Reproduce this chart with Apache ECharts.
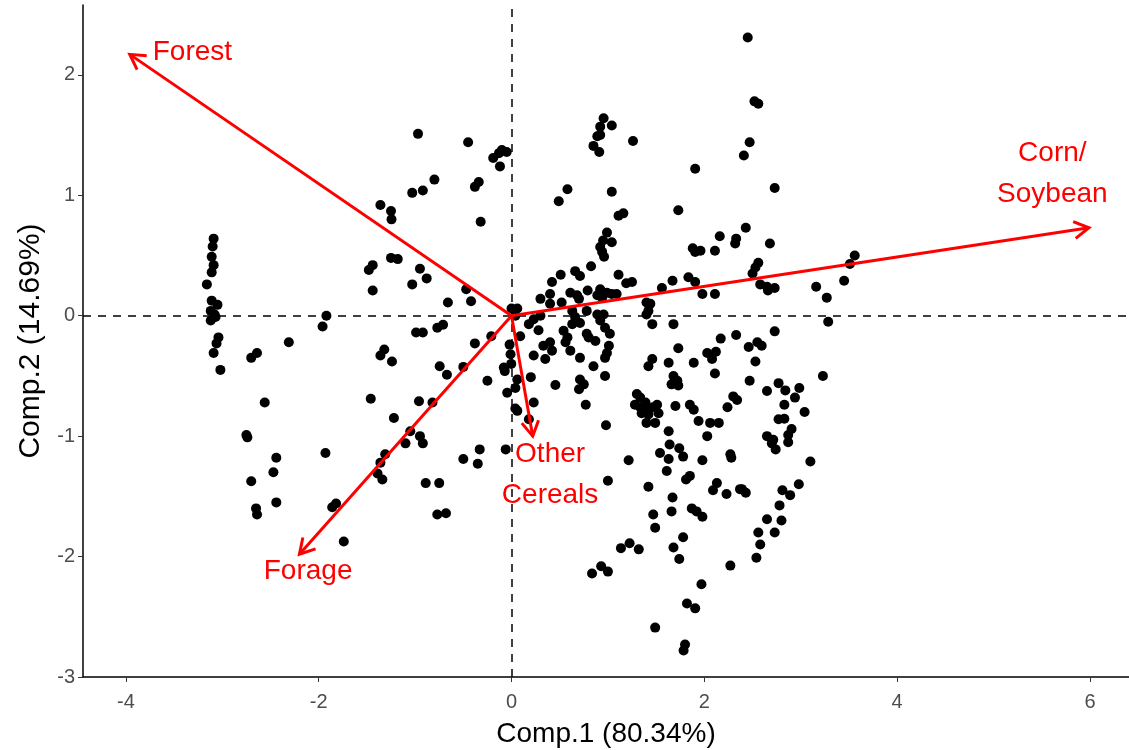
<!DOCTYPE html>
<html>
<head>
<meta charset="utf-8">
<script src="https://cdn.jsdelivr.net/npm/echarts@6/dist/echarts.min.js"></script>
<style>
  html, body { margin: 0; padding: 0; background: #fff; }
  #biplot { width: 1129px; height: 750px; }
</style>
</head>
<body>
<div id="biplot"></div>
<script>
// PCA scores (Comp.1, Comp.2)
var scores = [
  [-3.09,0.64],[-3.10,0.575],[-3.11,0.49],[-3.09,0.42],[-3.11,0.36],[-3.16,0.26],[-3.11,0.125],[-3.05,0.09],
  [-3.12,0.04],[-3.08,0.01],[-3.12,-0.04],[-3.07,-0.01],[-3.04,-0.18],[-3.06,-0.23],[-3.09,-0.31],[-3.02,-0.45],
  [-2.64,-0.31],[-2.70,-0.35],[-2.31,-0.22],[-1.92,0.0],[-1.96,-0.09],[-2.56,-0.72],[-1.46,-0.69],[-1.22,-0.85],
  [-1.44,0.42],[-1.48,0.38],[-1.44,0.21],[-1.25,0.48],[-1.18,0.47],[-1.32,-0.28],[-1.36,-0.33],[-1.24,-0.38],
  [-2.75,-0.99],[-2.74,-1.01],[-2.44,-1.18],[-2.47,-1.30],[-2.70,-1.375],[-2.44,-1.55],[-2.65,-1.60],[-2.64,-1.65],
  [-1.93,-1.14],[-1.31,-1.15],[-1.36,-1.22],[-1.39,-1.31],[-1.34,-1.36],[-1.82,-1.56],[-1.86,-1.59],[-1.74,-1.875],
  [-0.97,1.51],[-0.45,1.44],[-0.10,1.375],[-0.05,1.36],[-0.13,1.35],[-0.19,1.31],[-0.12,1.24],[-0.80,1.13],
  [-0.34,1.11],[-0.38,1.07],[-1.03,1.02],[-0.92,1.04],[-1.36,0.92],[-1.25,0.87],[-1.245,0.80],[-0.32,0.78],
  [-0.95,0.39],[-0.88,0.31],[-1.03,0.26],[-0.47,0.22],[-0.66,0.11],[-0.42,0.12],
  [-0.99,-0.14],[-0.92,-0.14],[-0.77,-0.10],[-0.71,-0.075],[-0.38,-0.23],[-0.21,-0.17],[-0.02,-0.24],[-0.745,-0.42],
  [-0.67,-0.49],[-0.50,-0.425],[-0.003,-0.40],[-0.07,-0.46],[0.06,-0.53],[-0.045,-0.64],[0.04,-0.77],[-0.25,-0.54],
  [-0.96,-0.71],[-0.82,-0.72],[-1.05,-0.96],[-0.95,-1.0],[-0.92,-1.06],[-1.10,-1.06],[-0.33,-1.11],[-0.35,-1.23],
  [-0.50,-1.19],[-0.06,-1.11],[-0.89,-1.39],[-0.75,-1.39],[-0.77,-1.65],[-0.68,-1.64],
  [0.955,1.64],[1.04,1.58],[0.92,1.57],[0.92,1.50],[0.89,1.49],[0.85,1.41],[0.91,1.36],[1.26,1.45],
  [1.905,1.22],[0.58,1.05],[0.49,0.95],[1.04,1.03],[1.73,0.875],[1.11,0.83],[1.16,0.85],[0.99,0.69],
  [0.95,0.625],[1.04,0.61],[0.92,0.57],[0.94,0.53],[0.96,0.49],[1.88,0.56],[1.905,0.53],[0.825,0.41],
  [0.66,0.37],[0.71,0.33],[0.51,0.34],[0.42,0.28],[1.11,0.34],[1.19,0.27],[1.25,0.28],[1.67,0.29],
  [1.835,0.32],[1.905,0.28],[1.56,0.23],[0.79,0.21],[0.30,0.14],[0.40,0.18],[0.52,0.11],[0.61,0.19],
  [0.68,0.17],[0.92,0.22],[0.99,0.19],[1.04,0.18],[0.94,0.15],[0.89,0.17],[1.40,0.11],[1.44,0.10],
  [0.06,0.06],[0.0,0.06],
  [0.40,0.10],[0.70,0.14],[1.09,0.18],[1.42,0.04],[1.40,0.01],[1.46,-0.07],[1.68,-0.07],[0.04,0.0],
  [0.18,-0.07],[0.28,-0.12],[0.09,-0.17],[0.30,0.0],[0.23,-0.03],[0.63,0.04],[0.66,-0.01],[0.71,-0.06],
  [0.63,-0.07],[0.78,0.04],[0.89,0.01],[0.92,-0.04],[0.955,0.01],[0.54,-0.125],[0.58,-0.18],[0.56,-0.22],
  [0.61,-0.29],[0.78,-0.15],[0.87,-0.21],[0.80,-0.18],[0.97,-0.10],[1.02,-0.15],[1.01,-0.25],[0.99,-0.31],
  [0.97,-0.35],[0.33,-0.25],[0.40,-0.22],[0.42,-0.29],[0.35,-0.36],[0.23,-0.33],[0.71,-0.35],[0.85,-0.42],
  [0.97,-0.50],[-0.01,-0.32],[-0.08,-0.43],[0.04,-0.60],[0.20,-0.51],[0.06,-0.79],[0.23,-0.72],[0.455,-0.575],
  [0.71,-0.53],[0.75,-0.57],[0.70,-0.61],[0.77,-0.74],[1.73,-0.27],[1.46,-0.36],[1.42,-0.42],[1.63,-0.39],
  [1.89,-0.39],[1.68,-0.50],[1.72,-0.54],[1.66,-0.57],[1.73,-0.58],[1.30,-0.65],[1.335,-0.68],[1.28,-0.74],
  [1.39,-0.72],[1.335,-0.76],[1.40,-0.78],[1.47,-0.76],[1.51,-0.74],[1.525,-0.81],[1.42,-0.82],[1.35,-0.81],
  [1.70,-0.75],[1.85,-0.74],[1.89,-0.78],[0.18,-0.86],
  [0.98,-0.91],[1.40,-0.89],[1.49,-0.89],[1.94,-0.875],[2.06,-0.89],[2.15,-0.89],[1.63,-0.96],[2.03,-1.0],
  [1.64,-1.07],[1.74,-1.10],[1.78,-1.17],[1.54,-1.14],[1.63,-1.19],[1.61,-1.29],[1.215,-1.20],[1.98,-1.20],
  [2.27,-1.15],[2.28,-1.18],[1.85,-1.33],[1.81,-1.36],[1.00,-1.37],[1.42,-1.42],[2.13,-1.39],[2.09,-1.45],
  [2.23,-1.48],[1.67,-1.51],[2.37,-1.44],[1.47,-1.65],[1.66,-1.625],[1.87,-1.60],[1.92,-1.625],[1.98,-1.67],
  [1.49,-1.76],[1.78,-1.84],[1.225,-1.89],[1.135,-1.93],[1.32,-1.94],[1.68,-1.925],[1.74,-2.02],[0.835,-2.14],
  [0.93,-2.08],[1.00,-2.125],[2.27,-2.075],[1.97,-2.23],[1.82,-2.39],[1.905,-2.43],[1.49,-2.59],[1.80,-2.73],
  [1.785,-2.78],
  [2.45,2.31],[2.52,1.78],[2.56,1.76],[2.47,1.44],[2.41,1.33],[2.73,1.06],[2.43,0.73],[2.16,0.66],
  [2.33,0.64],[2.32,0.60],[2.68,0.60],[1.96,0.54],[2.11,0.54],[2.56,0.44],[2.53,0.40],[2.50,0.35],
  [3.56,0.50],[3.51,0.43],[1.98,0.18],[2.11,0.18],[2.58,0.26],[2.65,0.24],[2.73,0.23],[2.66,0.21],
  [3.16,0.24],[3.45,0.29],[3.27,0.15],
  [3.285,-0.05],[2.73,-0.13],[2.33,-0.16],[2.17,-0.19],[2.46,-0.26],[2.55,-0.22],[2.595,-0.25],[2.03,-0.31],
  [2.12,-0.30],[2.08,-0.36],[2.53,-0.38],[2.11,-0.48],[2.47,-0.54],[3.23,-0.50],[2.65,-0.625],[2.77,-0.56],
  [2.84,-0.62],[2.985,-0.60],[2.94,-0.68],[2.30,-0.67],[2.34,-0.70],[2.24,-0.76],[2.83,-0.74],[3.04,-0.80],
  [2.77,-0.86],[2.83,-0.855],[2.905,-0.94],[2.87,-0.99],[2.65,-1.0],[2.715,-1.03],
  [2.39,-1.44],[2.43,-1.47],[2.70,-1.06],[2.74,-1.11],[2.87,-1.05],[3.10,-1.21],[2.81,-1.45],[2.89,-1.49],
  [2.98,-1.40],[2.78,-1.575],[2.65,-1.69],[2.80,-1.70],[2.56,-1.80],[2.73,-1.80],[2.58,-1.90],[2.54,-2.01]
];

// loadings arrows
var loadNames = ["Forest", "Corn/\nSoybean", "Forage", "Other\nCereals"];
var loadX = [-3.96, 5.99, -2.2, 0.22];
var loadY = [2.17, 0.73, -1.98, -1.0];
// where the arrow labels sit (data units)
var labelX = [-3.31, 5.61, -2.11, 0.40];
var labelY = [2.19, 1.18, -2.125, -1.32];

var xTicks = [-4, -2, 0, 2, 4, 6];
var yTicks = [-3, -2, -1, 0, 1, 2];

var chartDom = document.getElementById("biplot");
var myChart = echarts.init(chartDom);
var font = '"Liberation Sans", Arial, sans-serif';

var arrows = [];
for (var i = 0; i < loadNames.length; i++) {
  arrows.push([loadX[i], loadY[i], labelX[i], labelY[i]]);
}

var option = {
  animation: false,
  grid: { left: 83, right: 0, top: 5, bottom: 73, outerBoundsMode: "none", containLabel: false },
  xAxis: {
    type: "value",
    min: -4.445,
    max: 6.405,
    name: "Comp.1 (80.34%)",
    nameLocation: "middle",
    nameGap: 43,
    nameTextStyle: { color: "#000", fontSize: 28, fontFamily: font },
    axisLine: { show: true, onZero: false, lineStyle: { color: "#000", width: 1.5 } },
    axisTick: { show: true, length: 5, customValues: xTicks, lineStyle: { color: "#333" } },
    axisLabel: { customValues: xTicks, color: "#4d4d4d", fontSize: 20, fontFamily: font, margin: 15 },
    splitLine: { show: false }
  },
  yAxis: {
    type: "value",
    min: -3.0,
    max: 2.58,
    name: "Comp.2 (14.69%)",
    nameLocation: "middle",
    nameGap: 37,
    nameTextStyle: { color: "#000", fontSize: 30, fontFamily: font },
    axisLine: { show: true, onZero: false, lineStyle: { color: "#000", width: 1.5 } },
    axisTick: { show: true, length: 5, customValues: yTicks, lineStyle: { color: "#333" } },
    axisLabel: { customValues: yTicks, color: "#4d4d4d", fontSize: 20, fontFamily: font, margin: 8 },
    splitLine: { show: false }
  },
  series: [
    {
      type: "scatter",
      data: scores,
      symbolSize: 10,
      itemStyle: { color: "#000", opacity: 1 },
      z: 3,
      markLine: {
        silent: true,
        symbol: "none",
        label: { show: false },
        lineStyle: { color: "#000", type: [8, 7], width: 1.5 },
        data: [{ xAxis: 0 }, { yAxis: 0 }],
        z: 1
      }
    },
    {
      type: "custom",
      data: arrows,
      z: 5,
      renderItem: function (params, api) {
        var o = api.coord([0, 0]);
        var t = api.coord([api.value(0), api.value(1)]);
        var lp = api.coord([api.value(2), api.value(3)]);
        var ang = Math.atan2(t[1] - o[1], t[0] - o[0]);
        var L = 17, a = Math.PI / 6;
        var p1 = [t[0] - L * Math.cos(ang - a), t[1] - L * Math.sin(ang - a)];
        var p2 = [t[0] - L * Math.cos(ang + a), t[1] - L * Math.sin(ang + a)];
        return {
          type: "group",
          children: [
            { type: "line", shape: { x1: o[0], y1: o[1], x2: t[0], y2: t[1] }, style: { stroke: "#ff0000", lineWidth: 3 } },
            { type: "polyline", shape: { points: [p1, t, p2] }, style: { stroke: "#ff0000", lineWidth: 3, fill: null } },
            {
              type: "text",
              x: lp[0],
              y: lp[1],
              style: {
                text: loadNames[params.dataIndex],
                fill: "#ff0000",
                fontSize: 28,
                fontFamily: font,
                align: "center",
                verticalAlign: "middle",
                lineHeight: 41
              }
            }
          ]
        };
      }
    }
  ]
};

option && myChart.setOption(option);
</script>
</body>
</html>
